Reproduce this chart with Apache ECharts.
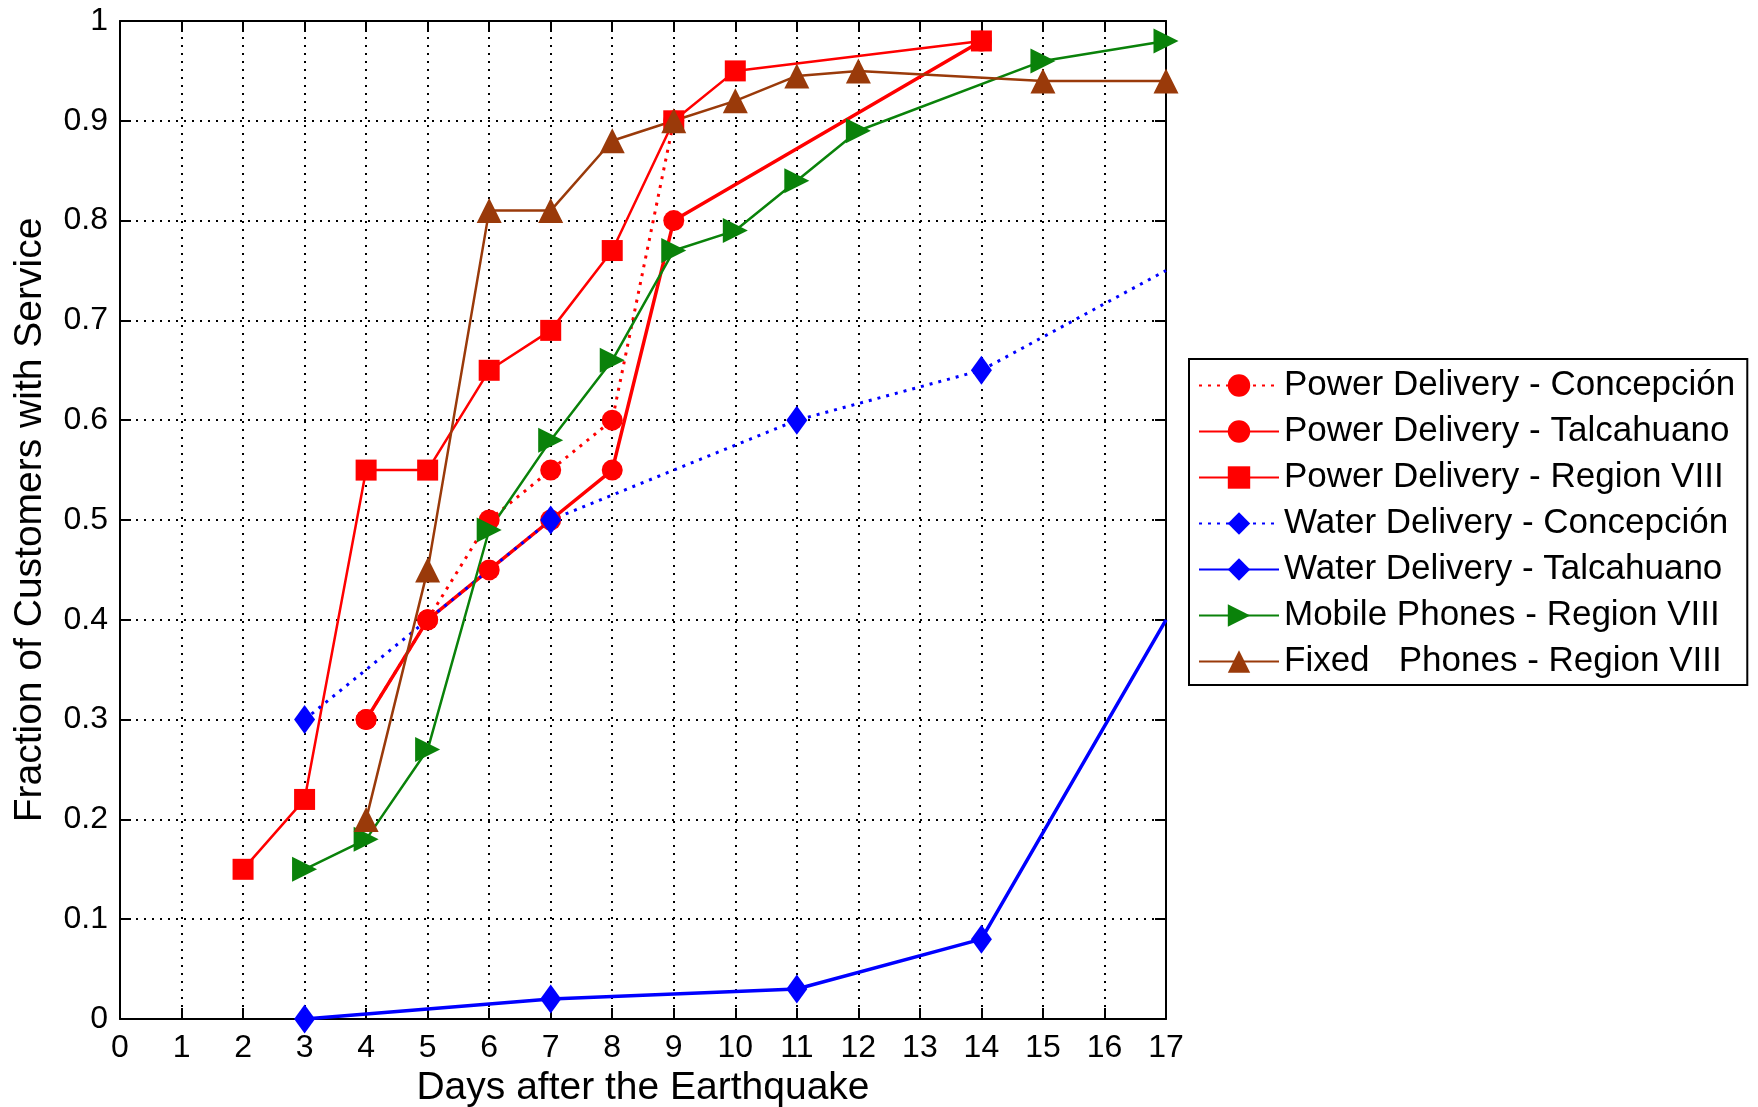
<!DOCTYPE html>
<html>
<head>
<meta charset="utf-8">
<script src="https://cdn.jsdelivr.net/npm/echarts@6/dist/echarts.min.js"></script>
<style>
  html, body { margin: 0; padding: 0; background: #fff; }
  #chart { width: 1758px; height: 1107px; }
</style>
</head>
<body>
<div id="chart"></div>
<script>
// days after the quake and fraction with service, per series
const power_conc_days = [4, 5, 6, 7, 8, 9];
const power_conc = [0.30, 0.40, 0.50, 0.55, 0.60, 0.90];
const power_talc_days = [4, 5, 6, 7, 8, 9, 14];
const power_talc = [0.30, 0.40, 0.45, 0.50, 0.55, 0.80, 0.98];
const power_reg_days = [2, 3, 4, 5, 6, 7, 8, 9, 10, 14];
const power_reg = [0.15, 0.22, 0.55, 0.55, 0.65, 0.69, 0.77, 0.90, 0.95, 0.98];
const water_conc_days = [3, 7, 11, 14, 17];
const water_conc = [0.30, 0.50, 0.60, 0.65, 0.75];
const water_talc_days = [3, 7, 11, 14, 17];
const water_talc = [0.00, 0.02, 0.03, 0.08, 0.40];
const mobile_days = [3, 4, 5, 6, 7, 8, 9, 10, 11, 12, 15, 17];
const mobile = [0.15, 0.18, 0.27, 0.49, 0.58, 0.66, 0.77, 0.79, 0.84, 0.89, 0.96, 0.98];
const fixed_days = [4, 5, 6, 7, 8, 9, 10, 11, 12, 15, 17];
const fixed = [0.20, 0.45, 0.81, 0.81, 0.88, 0.90, 0.92, 0.945, 0.95, 0.94, 0.94];

const font = "Liberation Sans, Arial, sans-serif";
const dots = [2, 6];

// the water lines run on past the axis end, no marker there
function pairs(days, vals, openEnd) {
  return days.map((d, i) => {
    if (openEnd && i === days.length - 1) return { value: [d, vals[i]], symbol: 'none' };
    return [d, vals[i]];
  });
}

function lineSeries(name, data, color, opts) {
  return Object.assign({
    name: name,
    type: 'line',
    data: data,
    symbolSize: 21,
    showAllSymbol: true,
    itemStyle: { color: color },
    lineStyle: { color: color, width: 2.5, type: 'solid' },
    emphasis: { disabled: true }
  }, opts);
}

const chart = echarts.init(document.getElementById('chart'), null, { renderer: 'canvas' });

const baseX = { type: 'value', min: 0, max: 17, interval: 1 };
const baseY = { type: 'value', min: 0, max: 1, interval: 0.1 };
const boxLine = { show: true, onZero: false, lineStyle: { color: '#000', width: 2 } };
const inTicks = { show: true, inside: true, length: 11, lineStyle: { color: '#000', width: 2 } };
const gridDots = { show: true, lineStyle: { color: '#000', width: 2, type: dots } };

chart.setOption({
  animation: false,
  backgroundColor: '#fff',
  grid: { left: 120, right: 592, top: 21, bottom: 88, outerBoundsMode: 'none', containLabel: false },
  xAxis: [
    Object.assign({}, baseX, {
      position: 'bottom',
      name: 'Days after the Earthquake', nameLocation: 'middle', nameGap: 46,
      nameTextStyle: { fontFamily: font, fontSize: 39, color: '#000' },
      axisLine: boxLine, axisTick: inTicks, splitLine: gridDots,
      axisLabel: { fontFamily: font, fontSize: 32, color: '#000', margin: 13 }
    }),
    Object.assign({}, baseX, {
      position: 'top', axisLine: boxLine, axisTick: inTicks,
      axisLabel: { show: false }, splitLine: { show: false }
    })
  ],
  yAxis: [
    Object.assign({}, baseY, {
      position: 'left',
      name: 'Fraction of Customers with Service', nameLocation: 'middle', nameGap: 70,
      nameTextStyle: { fontFamily: font, fontSize: 39, color: '#000' },
      axisLine: boxLine, axisTick: inTicks, splitLine: gridDots,
      axisLabel: {
        fontFamily: font, fontSize: 32, color: '#000', margin: 12,
        formatter: (v) => String(+v.toFixed(1))
      }
    }),
    Object.assign({}, baseY, {
      position: 'right', axisLine: boxLine, axisTick: inTicks,
      axisLabel: { show: false }, splitLine: { show: false }
    })
  ],
  legend: {
    orient: 'vertical',
    left: 1189, top: 359,
    backgroundColor: '#fff',
    borderColor: '#000', borderWidth: 2,
    padding: [9, 12, 6, 9],
    itemWidth: 80, itemHeight: 28, itemGap: 11,
    textStyle: { fontFamily: font, fontSize: 35, color: '#000', lineHeight: 35 },
    data: [
      'Power Delivery - Concepción', 'Power Delivery - Talcahuano', 'Power Delivery - Region VIII',
      'Water Delivery - Concepción', 'Water Delivery - Talcahuano',
      'Mobile Phones - Region VIII', 'Fixed   Phones - Region VIII'
    ]
  },
  series: [
    lineSeries('Power Delivery - Concepción', pairs(power_conc_days, power_conc), '#ff0000',
      { symbol: 'circle', lineStyle: { color: '#ff0000', width: 3, type: [3, 6] } }),
    lineSeries('Power Delivery - Talcahuano', pairs(power_talc_days, power_talc), '#ff0000',
      { symbol: 'circle', lineStyle: { color: '#ff0000', width: 3.5 } }),
    lineSeries('Power Delivery - Region VIII', pairs(power_reg_days, power_reg), '#ff0000',
      { symbol: 'rect', lineStyle: { color: '#ff0000', width: 2.5 } }),
    lineSeries('Water Delivery - Concepción', pairs(water_conc_days, water_conc, true), '#0000ff',
      { symbol: 'diamond', symbolSize: [21, 29], lineStyle: { color: '#0000ff', width: 3, type: [3, 6] } }),
    lineSeries('Water Delivery - Talcahuano', pairs(water_talc_days, water_talc, true), '#0000ff',
      { symbol: 'diamond', symbolSize: [21, 29], lineStyle: { color: '#0000ff', width: 3.5 } }),
    lineSeries('Mobile Phones - Region VIII', pairs(mobile_days, mobile), '#0a820a',
      { symbol: 'triangle', symbolRotate: -90, symbolSize: 25, lineStyle: { color: '#0a820a', width: 2.5 } }),
    lineSeries('Fixed   Phones - Region VIII', pairs(fixed_days, fixed), '#9a3a0a',
      { symbol: 'triangle', symbolSize: 25, lineStyle: { color: '#9a3a0a', width: 2.5 } })
  ]
});
</script>
</body>
</html>
